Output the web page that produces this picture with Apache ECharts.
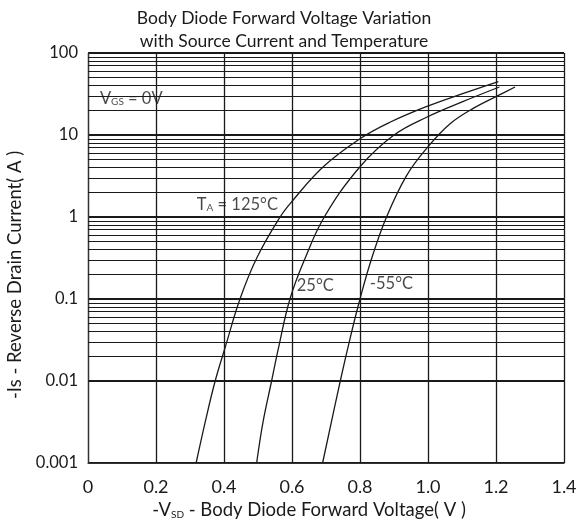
<!DOCTYPE html>
<html>
<head>
<meta charset="utf-8">
<script src="https://cdn.jsdelivr.net/npm/echarts@6/dist/echarts.min.js"></script>
<style>html,body{margin:0;padding:0;background:#fff}#c{width:588px;height:520px}</style>
</head>
<body>
<div id="c"></div>
<script>
// ---- data ----
const xTickLabels = ['0', '0.2', '0.4', '0.6', '0.8', '1.0', '1.2', '1.4'];
const yTickLabels = ['0.001', '0.01', '0.1', '1', '10', '100'];

// T_A = 125°C
const v125 = [0.318, 0.345, 0.374, 0.405, 0.447, 0.497, 0.565, 0.597, 0.692, 0.800, 0.888, 0.999, 1.104, 1.207];
const i125 = [0.001, 0.0032, 0.010, 0.027, 0.100, 0.320, 1.000, 1.500, 4.100, 9.000, 14.30, 22.50, 32.20, 44.90];
// 25°C
const v25 = [0.496, 0.515, 0.540, 0.560, 0.594, 0.638, 0.695, 0.800, 0.900, 0.999, 1.104, 1.210];
const i25 = [0.001, 0.0032, 0.010, 0.025, 0.100, 0.310, 1.000, 4.100, 10.00, 16.70, 25.70, 38.50];
// -55°C
const vm55 = [0.690, 0.742, 0.770, 0.800, 0.834, 0.878, 0.937, 0.999, 1.065, 1.133, 1.210, 1.256];
const im55 = [0.001, 0.010, 0.032, 0.100, 0.310, 1.000, 3.200, 7.100, 13.70, 21.10, 30.80, 38.50];

// annotation anchors (data coords) and texts
const annoText = ['{n|V}{s|GS}{n| = 0V}', '{n|T}{s|A}{n| = 125°C}', '{n|25°C}', '{n|-55°C}'];
const annoV = [0.035, 0.320, 0.614, 0.829];
const annoI = [28, 1.42, 0.144, 0.152];

// minor log grid multipliers and decades
const minorMult = [2, 3, 4, 5, 6, 7, 8, 9];
const decades = [0.001, 0.01, 0.1, 1, 10];

const zip = (a, b) => a.map((x, k) => [x, b[k]]);
const minorLines = [];
decades.forEach(d => minorMult.forEach(m => minorLines.push({ yAxis: +(d * m).toPrecision(3) })));

const FONT = 'Lato';
const ink = '#1a1a1a';
const curveStyle = { color: ink, width: 1.3 };
const annoRich = {
  n: { fontFamily: FONT, fontSize: 16.5, color: ink },
  s: { fontFamily: FONT, fontSize: 10, color: ink, padding: [7, 0, 0, 0] }
};

const chart = echarts.init(document.getElementById('c'), null, { renderer: 'canvas' });
chart.setOption({
  backgroundColor: '#fff',
  animation: false,
  title: {
    text: 'Body Diode Forward Voltage Variation\nwith Source Current and Temperature',
    left: 279, top: 2, textAlign: 'center',
    textStyle: { fontFamily: FONT, fontSize: 17.5, fontWeight: 'normal', color: ink, lineHeight: 23 }
  },
  grid: { left: 88, right: 24, top: 53, bottom: 57, containLabel: false, outerBoundsMode: 'none' },
  xAxis: {
    type: 'value', min: 0, max: 1.4, interval: 0.2,
    name: '{n|-V}{s|SD}{n| - Body Diode Forward Voltage( V )}',
    nameLocation: 'middle', nameGap: 31,
    nameTextStyle: {
      padding: [0, 34, 0, 0],
      rich: {
        n: { fontFamily: FONT, fontSize: 18.5, color: ink },
        s: { fontFamily: FONT, fontSize: 10, color: ink, padding: [8, 0, 0, 0] }
      }
    },
    axisLine: { show: true, lineStyle: { color: '#333', width: 1.2 } },
    axisTick: { show: false },
    axisLabel: { fontFamily: FONT, fontSize: 18, color: ink, margin: 15,
      formatter: v => xTickLabels[Math.round(v / 0.2)] },
    splitLine: { show: true, lineStyle: { color: ink, width: 1.3 } }
  },
  yAxis: {
    type: 'log', logBase: 10, min: 0.001, max: 100,
    name: '-Is - Reverse Drain Current( A )',
    nameLocation: 'middle', nameGap: 52,
    nameTextStyle: { fontFamily: FONT, fontSize: 18.5, color: ink, padding: [0, 34, 0, 0] },
    axisLine: { show: true, lineStyle: { color: '#333', width: 1.2 } },
    axisTick: { show: false },
    axisLabel: { fontFamily: FONT, fontSize: 16.5, color: ink, margin: 10,
      formatter: v => yTickLabels[Math.round(Math.log10(v)) + 3] },
    splitLine: { show: true, lineStyle: { color: ink, width: 1.8 } }
  },
  series: [
    { type: 'line', name: '125°C', data: zip(v125, i125), showSymbol: false, smooth: 0.4,
      lineStyle: curveStyle, z: 5,
      markLine: { silent: true, symbol: 'none', label: { show: false }, animation: false,
        lineStyle: { color: ink, width: 1, type: 'solid' }, data: minorLines } },
    { type: 'line', name: '25°C', data: zip(v25, i25), showSymbol: false, smooth: 0.4,
      lineStyle: curveStyle, z: 5 },
    { type: 'line', name: '-55°C', data: zip(vm55, im55), showSymbol: false, smooth: 0.4,
      lineStyle: curveStyle, z: 5 },
    { type: 'scatter', symbolSize: 0, silent: true, z: 6,
      data: annoV.map((v, k) => ({ value: [v, annoI[k]],
        label: { show: true, position: 'right', distance: 0, formatter: annoText[k], rich: annoRich } })) }
  ]
});
</script>
</body>
</html>
